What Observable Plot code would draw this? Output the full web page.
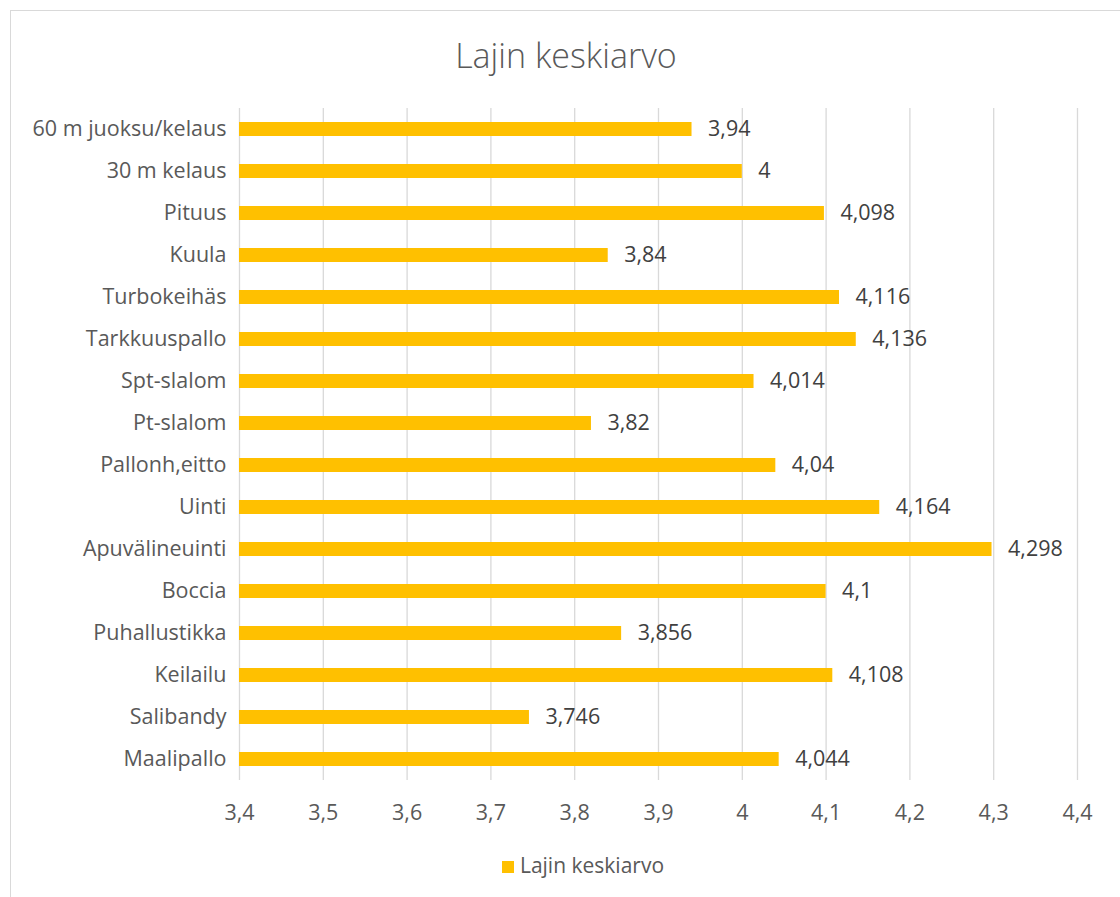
<!DOCTYPE html>
<html>
<head>
<meta charset="utf-8">
<script src="https://cdn.jsdelivr.net/npm/d3@7"></script>
<script src="https://cdn.jsdelivr.net/npm/@observablehq/plot@0.6"></script>
<style>
  html, body { margin: 0; padding: 0; background: #fff; }
  body { width: 1120px; height: 897px; position: relative; overflow: hidden; font-family: "Open Sans", sans-serif; }
  #frame { position: absolute; left: 10px; top: 10px; width: 1200px; height: 1000px; border-left: 1px solid #d9d9d9; border-top: 1px solid #d9d9d9; box-sizing: border-box; }
  #title { position: absolute; left: 0; width: 1132px; top: 33px; text-align: center; font-size: 34px; font-weight: 300; color: #595959; line-height: 44px; }
  #chart { position: absolute; left: 0; top: 90px; }
  #legend { position: absolute; left: 23px; width: 1120px; top: 851px; text-align: center; font-size: 21px; color: #595959; line-height: 28px; }
  #legend .sw { display: inline-block; width: 12px; height: 12px; background: #FFC000; margin-right: 6px; vertical-align: 0px; }
</style>
</head>
<body>
<div id="frame"></div>
<div id="title">Lajin keskiarvo</div>
<div id="chart"></div>
<div id="legend"><span class="sw"></span>Lajin keskiarvo</div>
<script>
const categories = [
  "60 m juoksu/kelaus", "30 m kelaus", "Pituus", "Kuula", "Turbokeihäs",
  "Tarkkuuspallo", "Spt-slalom", "Pt-slalom", "Pallonh,eitto", "Uinti",
  "Apuvälineuinti", "Boccia", "Puhallustikka", "Keilailu", "Salibandy", "Maalipallo"
];
const values = [3.94, 4, 4.098, 3.84, 4.116, 4.136, 4.014, 3.82, 4.04, 4.164, 4.298, 4.1, 3.856, 4.108, 3.746, 4.044];
const xTicks = [3.4, 3.5, 3.6, 3.7, 3.8, 3.9, 4.0, 4.1, 4.2, 4.3, 4.4];
const seriesName = "Lajin keskiarvo";

const data = categories.map((c, i) => ({ cat: c, value: values[i] }));
const fmt = v => String(+v.toFixed(3)).replace(".", ",");
const x0 = 3.4;
const ff = "'Open Sans', sans-serif";
const fs = 21.5;

const chart = Plot.plot({
  width: 1120,
  height: 750,
  marginLeft: 239,
  marginRight: 43,
  marginTop: 18,
  marginBottom: 60,
  style: { fontFamily: ff, fontSize: fs + "px", color: "#595959", background: "transparent" },
  x: { domain: [3.4, 4.4], ticks: xTicks, tickFormat: fmt, label: null },
  y: { domain: categories, paddingInner: 0.655, paddingOuter: 0.3275, label: null },
  marks: [
    Plot.ruleX(xTicks, { stroke: "#d9d9d9", strokeWidth: 1.3 }),
    Plot.barX(data, { y: "cat", x1: x0, x2: "value", fill: "#FFC000" }),
    Plot.text(data, { y: "cat", x: "value", text: d => fmt(d.value), textAnchor: "start", dx: 16, fill: "#404040", fontSize: fs }),
    Plot.axisX({ ticks: xTicks, tickFormat: fmt, tickSize: 0, tickPadding: 24, fontSize: fs, color: "#595959", label: null }),
    Plot.axisY({ tickSize: 0, tickPadding: 13, fontSize: fs, color: "#595959", label: null })
  ]
});
document.getElementById("chart").appendChild(chart);
</script>
</body>
</html>
